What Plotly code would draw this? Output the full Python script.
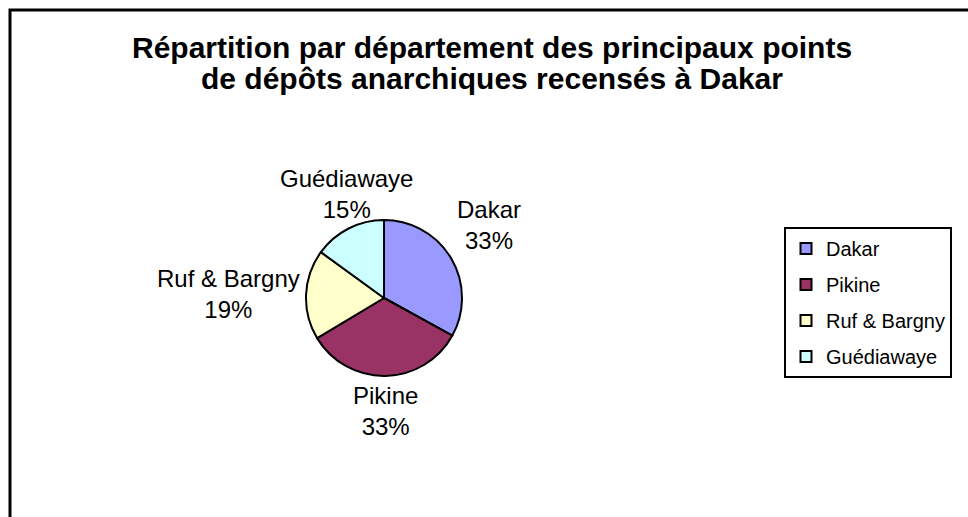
import math
import plotly.graph_objects as go

W, H = 968, 517

labels = ["Dakar", "Pikine", "Ruf & Bargny", "Guédiawaye"]
values = [33.0, 33.4, 18.6, 15.0]
colors = ["#9999FF", "#993366", "#FFFFCC", "#CCFFFF"]

title_lines = ["Répartition par département des principaux points",
               "de dépôts anarchiques recensés à Dakar"]

FONT = "Arial, Liberation Sans, sans-serif"

# pie geometry (pixels)
CX, CY, R = 384, 298, 78
LABEL_R = 82

fig = go.Figure()
fig.add_trace(go.Pie(
    labels=labels,
    values=values,
    sort=False,
    direction="clockwise",
    rotation=0,
    marker=dict(colors=colors, line=dict(color="black", width=2)),
    textinfo="none",
    domain=dict(x=[(CX - R) / W, (CX + R) / W],
                y=[1 - (CY + R) / H, 1 - (CY - R) / H]),
    showlegend=False,
))

# legend entries (one per category, same colours as the slices)
for lab, col in zip(labels, colors):
    fig.add_trace(go.Scatter(
        x=[None], y=[None], mode="markers", name=lab,
        legendgroup=lab,
        marker=dict(symbol="square", size=11, color=col,
                    line=dict(color="black", width=2)),
    ))

annotations = []
for i, line in enumerate(title_lines):
    annotations.append(dict(
        text=line, xref="paper", yref="paper",
        x=492 / W, xanchor="center",
        y=1 - (47 + 32 * i) / H, yanchor="middle",
        showarrow=False,
        font=dict(family=FONT, size=30, color="black", weight="bold"),
    ))

# outside data labels placed along each slice's mid-angle
total = sum(values)
cum = 0.0
for lab, v in zip(labels, values):
    theta = 2 * math.pi * (cum + v / 2) / total
    cum += v
    ux, uy = math.sin(theta), -math.cos(theta)  # screen coords (y down)
    px = CX + LABEL_R * ux
    py = CY + LABEL_R * uy
    xanchor = "left" if ux > 0.5 else ("right" if ux < -0.5 else "center")
    yanchor = "bottom" if uy < -0.3 else ("top" if uy > 0.3 else "middle")
    pct = round(100 * v / total)
    annotations.append(dict(
        text=f"{lab}<br>{pct}%", xref="paper", yref="paper",
        x=px / W, y=1 - py / H, xanchor=xanchor, yanchor=yanchor,
        showarrow=False,
        font=dict(family=FONT, size=24, color="black"),
    ))

fig.update_layout(
    width=W, height=H,
    margin=dict(l=0, r=0, t=0, b=0),
    paper_bgcolor="white",
    plot_bgcolor="white",
    xaxis=dict(visible=False),
    yaxis=dict(visible=False),
    annotations=annotations,
    legend=dict(
        x=784 / W, xanchor="left",
        y=1 - 227 / H, yanchor="top",
        bordercolor="black", borderwidth=2,
        bgcolor="white",
        traceorder="grouped",
        tracegroupgap=7,
        itemwidth=30,
        font=dict(family=FONT, size=20, color="black"),
    ),
    shapes=[dict(
        type="rect", xref="paper", yref="paper",
        x0=10 / W, x1=1.02, y0=-0.02, y1=1 - 10 / H,
        line=dict(color="black", width=3),
    )],
)

fig.write_html("out.html", config={"displayModeBar": False},
               post_script="document.body.style.margin='0px';")
